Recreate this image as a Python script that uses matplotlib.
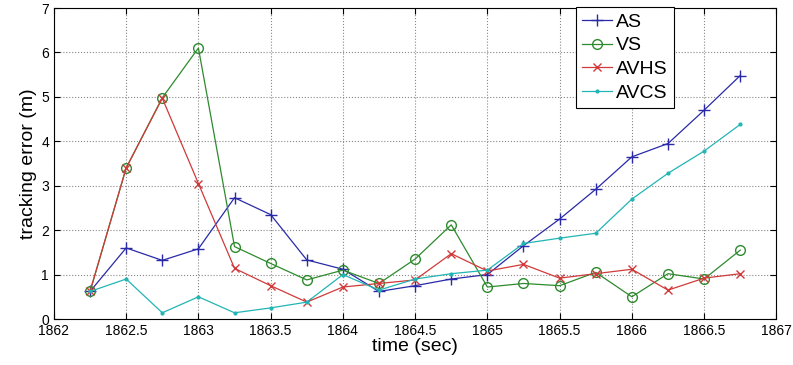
import matplotlib.pyplot as plt
import numpy as np

plt.rcParams['font.family'] = ['Liberation Sans', 'DejaVu Sans']

t = [1862.25, 1862.5, 1862.75, 1863, 1863.25, 1863.5, 1863.75, 1864, 1864.25, 1864.5,
     1864.75, 1865, 1865.25, 1865.5, 1865.75, 1866, 1866.25, 1866.5, 1866.75]
AS = [0.62, 1.6, 1.32, 1.58, 2.73, 2.35, 1.33, 1.12, 0.62, 0.75,
      0.9, 1.0, 1.65, 2.25, 2.92, 3.65, 3.95, 4.7, 5.48]
VS = [0.62, 3.4, 4.98, 6.1, 1.63, 1.25, 0.88, 1.1, 0.8, 1.35,
      2.12, 0.72, 0.8, 0.75, 1.05, 0.5, 1.02, 0.9, 1.55]
AVHS = [0.62, 3.4, 4.97, 3.05, 1.14, 0.75, 0.38, 0.72, 0.8, 0.88,
        1.47, 1.08, 1.23, 0.92, 1.02, 1.12, 0.65, 0.92, 1.02]
AVCS = [0.62, 0.9, 0.14, 0.5, 0.14, 0.25, 0.38, 1.0, 0.65, 0.9,
        1.02, 1.1, 1.7, 1.82, 1.93, 2.7, 3.28, 3.78, 4.38]

fig = plt.figure(figsize=(7.93, 3.65), dpi=100)
ax = fig.add_axes([0.068, 0.126, 0.911, 0.852])

ax.plot(t, AS, color='#2a2aa8', marker='+', ms=8, lw=0.9, label='AS')
ax.plot(t, VS, color='#2e8a2e', marker='o', ms=7, mfc='none', lw=0.9, label='VS')
ax.plot(t, AVHS, color='#d03a3a', marker='x', ms=5.5, lw=0.9, label='AVHS')
ax.plot(t, AVCS, color='#22b5b5', marker='.', ms=4, lw=0.9, label='AVCS')

ax.set_xlim(1862, 1867)
ax.set_ylim(0, 7)
ax.set_xticks(np.arange(1862, 1867.1, 0.5))
ax.set_xticklabels(['1862', '1862.5', '1863', '1863.5', '1864', '1864.5',
                    '1865', '1865.5', '1866', '1866.5', '1867'])
ax.set_yticks(range(0, 8))
ax.tick_params(direction='in', top=True, right=True, labelsize=10, length=4)
ax.grid(True, linestyle=':', color='#888888', lw=0.8)
ax.set_xlabel('time (sec)', fontsize=14, labelpad=0)
ax.set_ylabel('tracking error (m)', fontsize=14, labelpad=3)

leg = ax.legend(loc='upper right', bbox_to_anchor=(0.858, 1.003), fontsize=14,
                fancybox=False, edgecolor='black', framealpha=1,
                handlelength=1.55, handletextpad=0.2, labelspacing=0.32,
                borderpad=0.3, borderaxespad=0.0)
leg.get_frame().set_linewidth(0.8)

fig.savefig('out.png', dpi=100)
